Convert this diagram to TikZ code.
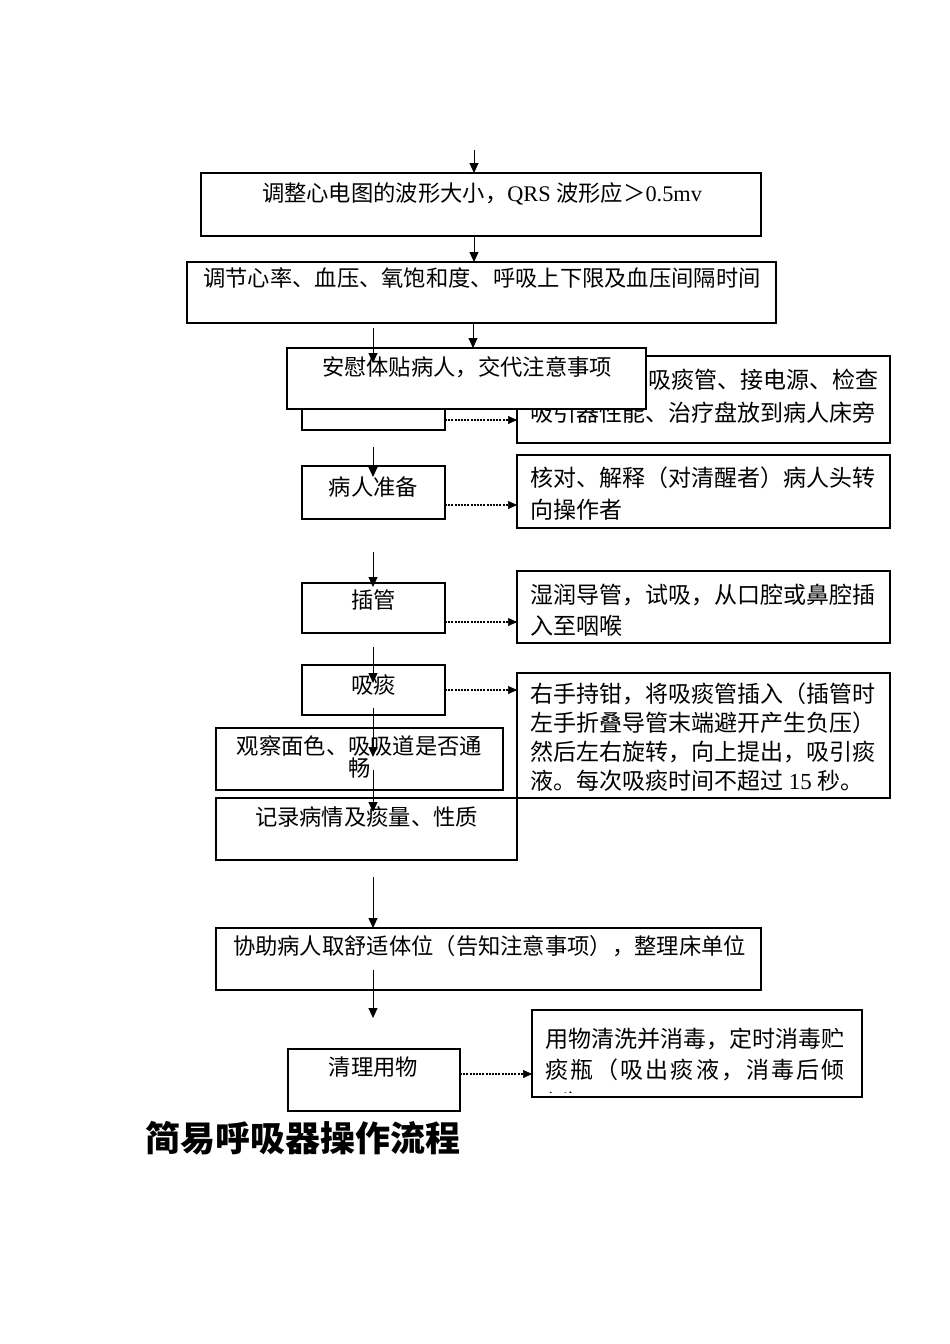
\documentclass[tikz,border=0pt]{standalone}
\usepackage{fontspec}
\setmainfont{Liberation Serif}
\newfontfamily\cjk{Noto Sans CJK SC}
\usetikzlibrary{arrows.meta}
\tikzset{
 bx/.style={draw=black, line width=1.1pt, fill=white, rectangle, inner sep=0pt, outer sep=0pt},
 lt/.style={inner sep=0pt, outer sep=0pt, anchor=base, font=\cjk\fontsize{22.3}{26}\selectfont},
 rt/.style={inner sep=0pt, outer sep=0pt, anchor=base west, font=\cjk\fontsize{23}{27}\selectfont},
 arr/.style={line width=1pt, -{Triangle[length=10pt,width=9pt]}},
 darr/.style={line width=2.4pt, dash pattern=on 2pt off 1.2pt, -{Triangle[length=9pt,width=8pt,line width=0.5pt]}},
 ttl/.style={inner sep=0pt, outer sep=0pt, anchor=base west, font=\cjk\bfseries\fontsize{35}{40}\selectfont},
}
\begin{document}
\begin{tikzpicture}[x=1pt,y=-1pt]
\useasboundingbox[fill=white] (0,0) rectangle (950,1344);

% top boxes
\node[bx, minimum width=560pt, minimum height=63pt] (A) at (481,204.5) {};
\node[lt] (tA) at (482,201.5) {调整心电图的波形大小，{\rmfamily QRS }波形应＞{\rmfamily 0.5mv}};
\node[bx, minimum width=589pt, minimum height=61pt] (B) at (481.5,292.5) {};
\node[lt] (tB) at (482,286.5) {调节心率、血压、氧饱和度、呼吸上下限及血压间隔时间};

\coordinate (c1) at (474,150);
\draw[arr] (c1) -- (c1 |- A.north);
\draw[arr] (c1 |- A.south) -- (c1 |- B.north);

% hidden box and right box 1
\node[bx, minimum width=143pt, minimum height=52pt] (H) at (373.5,404) {};
\node[bx, minimum width=373pt, minimum height=87pt] (R1) at (703.5,399.5) {};
\node[rt] (r1a) at (648,388.7) {吸痰管、接电源、检查};
\node[rt] (r1b) at (530,421.7) {吸引器性能、治疗盘放到病人床旁};
\coordinate (d1) at (480,420);
\draw[darr] (H.east |- d1) -- (R1.west |- d1);

% comfort box on top
\node[bx, minimum width=359pt, minimum height=61pt] (AW) at (466.5,378.5) {};
\node[lt] (tAW) at (467,375.5) {安慰体贴病人，交代注意事项};
\coordinate (c3) at (473,330);
\draw[arr] (c3 |- B.south) -- (c3 |- AW.north);
\coordinate (c4s) at (373,328);
\coordinate (c4e) at (373,363);
\draw[arr] (c4s) -- (c4e);

% patient preparation
\node[bx, minimum width=143pt, minimum height=53pt] (P) at (373.5,492.5) {};
\node[lt] (tP) at (373.5,495.5) {病人准备};
\node[bx, minimum width=373pt, minimum height=73pt] (R2) at (703.5,491.5) {};
\node[rt] (r2a) at (530,486.7) {核对、解释（对清醒者）病人头转};
\node[rt] (r2b) at (530,518.7) {向操作者};
\coordinate (c5s) at (373,447);
\coordinate (c5e) at (373,477);
\draw[arr] (c5s) -- (c5e);
\coordinate (d2) at (480,505);
\draw[darr] (P.east |- d2) -- (R2.west |- d2);

% intubation
\node[bx, minimum width=143pt, minimum height=50pt] (C) at (373.5,608) {};
\node[lt] (tC) at (373.5,608.5) {插管};
\node[bx, minimum width=373pt, minimum height=72pt] (R3) at (703.5,607) {};
\node[rt] (r3a) at (530,603.7) {湿润导管，试吸，从口腔或鼻腔插};
\node[rt] (r3b) at (530,634.7) {入至咽喉};
\coordinate (c6s) at (373,552);
\coordinate (c6e) at (373,587);
\draw[arr] (c6s) -- (c6e);
\coordinate (d3) at (480,622);
\draw[darr] (C.east |- d3) -- (R3.west |- d3);

% suction
\node[bx, minimum width=143pt, minimum height=50pt] (X) at (373.5,690) {};
\node[lt] (tX) at (373.5,693.5) {吸痰};
\node[bx, minimum width=373pt, minimum height=125pt] (R4) at (703.5,735.5) {};
\node[rt] (r4a) at (530,702.7) {右手持钳，将吸痰管插入（插管时};
\node[rt] (r4b) at (530,731.7) {左手折叠导管末端避开产生负压）};
\node[rt] (r4c) at (530,760.7) {然后左右旋转，向上提出，吸引痰};
\node[rt] (r4d) at (530,789.7) {液。每次吸痰时间不超过{\rmfamily\ 15 }秒。};
\coordinate (d4) at (480,690);
\draw[darr] (X.east |- d4) -- (R4.west |- d4);

% observe and record
\node[bx, minimum width=287pt, minimum height=62pt] (G) at (359.5,759) {};
\node[lt] (tG1) at (359.5,754.5) {观察面色、吸吸道是否通};
\node[lt] (tG2) at (359.5,776.5) {畅};
\node[bx, minimum width=301pt, minimum height=62pt] (J) at (366.5,829) {};
\node[lt] (tJ) at (366.5,825.5) {记录病情及痰量、性质};

\coordinate (c7s) at (373,647);
\coordinate (c7e) at (373,683);
\draw[arr] (c7s) -- (c7e);
\coordinate (c8s) at (373,708);
\coordinate (c8e) at (373,757);
\draw[arr] (c8s) -- (c8e);
\coordinate (c9s) at (373,770);
\coordinate (c9e) at (373,812);
\draw[arr] (c9s) -- (c9e);

% assist
\coordinate (c10) at (373,877);
\node[bx, minimum width=545pt, minimum height=62pt] (H2) at (488.5,959) {};
\node[lt] (tH2) at (489.5,954.5) {协助病人取舒适体位（告知注意事项），整理床单位};
\draw[arr] (c10) -- (c10 |- H2.north);

% clean up
\node[bx, minimum width=172pt, minimum height=62pt] (Q) at (374,1080) {};
\node[lt] (tQ) at (373.5,1075.5) {清理用物};
\coordinate (c11s) at (373,970);
\coordinate (c11e) at (373,1018);
\draw[arr] (c11s) -- (c11e);
\node[bx, minimum width=330pt, minimum height=87pt] (R5) at (697,1053.5) {};
\node[rt] (r5a) at (545,1047.7) {用物清洗并消毒，定时消毒贮};
\node[rt] (r5b) at (545,1078.7) {\makebox[300pt][s]{痰\hfill 瓶\hfill （\hfill 吸\hfill 出\hfill 痰\hfill 液\hfill ，\hfill 消\hfill 毒\hfill 后\hfill 倾}};
\begin{scope}
\clip (533,1011) rectangle (861,1092);
\node[rt] (r5c) at (545,1111) {倒）};
\end{scope}
\coordinate (d5) at (500,1074);
\draw[darr] (Q.east |- d5) -- (R5.west |- d5);

% title
\node[ttl] (T) at (145,1151.3) {简易呼吸器操作流程};
\end{tikzpicture}
\end{document}
